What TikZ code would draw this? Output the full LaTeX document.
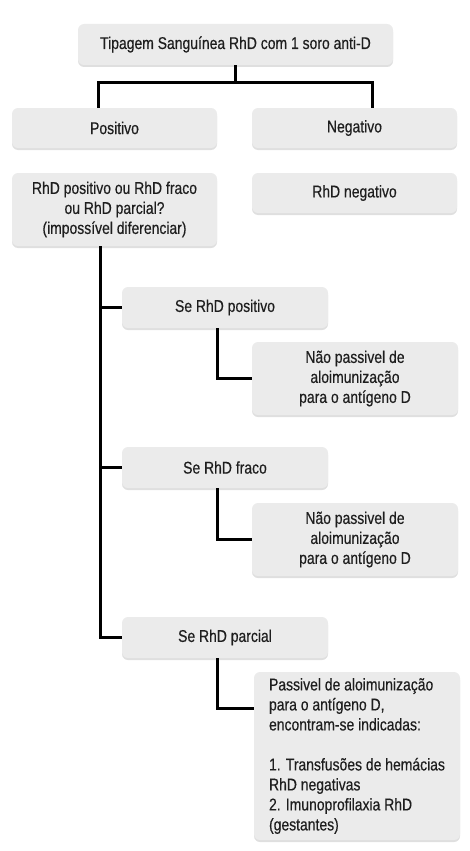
\documentclass[tikz,border=0pt]{standalone}
\usepackage{fontspec}
\setmainfont[FakeStretch=0.82, FakeBold=0.4]{Liberation Sans}
\usetikzlibrary{shadows}
\definecolor{boxgray}{HTML}{EBEBEB}
\definecolor{textgray}{HTML}{1E1E1E}

\begin{document}
\begin{tikzpicture}[x=1pt, y=-1pt,
  box/.style={rectangle, rounded corners=6pt, fill=boxgray, text=textgray,
    align=center, inner sep=0pt, minimum width=205pt, minimum height=40pt,
    font=\fontsize{17}{20}\selectfont,
    drop shadow={shadow xshift=0pt, shadow yshift=-2pt, opacity=0.25}},
  link/.style={line width=3pt, draw=black}]

\useasboundingbox (0,0) rectangle (469,851);

%------------------ TOP LEVEL ------------------%
\node[box, minimum width=315pt, minimum height=41pt] (tipagem) at (235.5,44.5)
  {Tipagem Sanguínea RhD com 1 soro anti-D};

\node[box] (pos) at (114.5,128) {Positivo};
\node[box] (neg) at (354.5,128) {Negativo};

\node[box, minimum height=73pt] (duvida) at (114.5,209.5)
  {RhD positivo ou RhD fraco\\ ou RhD parcial?\\ (impossível diferenciar)};
\node[box] (rhdneg) at (354.5,193) {RhD negativo};

% split under the top box
\coordinate (hub) at (235.5,82);
\draw[link] (tipagem.south) -- (hub);
\draw[link] ([xshift=-16.5pt]pos.north) |- (hub) -| ([xshift=17.5pt]neg.north);

%------------------ POSITIVE BRANCH ------------------%
\node[box, minimum width=206pt, minimum height=41pt] (sepos) at (225,307.5) {Se RhD positivo};
\node[box, minimum width=206pt, minimum height=73pt] (nao1) at (355,378.5)
  {Não passivel de\\ aloimunização\\ para o antígeno D};

\node[box, minimum width=206pt, minimum height=41pt] (sefraco) at (225,467.5) {Se RhD fraco};
\node[box, minimum width=206pt, minimum height=73pt] (nao2) at (355,539.5)
  {Não passivel de\\ aloimunização\\ para o antígeno D};

\node[box, minimum width=206pt, minimum height=41pt] (separcial) at (225,637.5) {Se RhD parcial};
\node[box, minimum width=206pt, minimum height=168pt, align=left] (passivel) at (357,756)
  {Passivel de aloimunização\\ para o antígeno D,\\ encontram-se indicadas:\\[20pt]
   1. Transfusões de hemácias\\ RhD negativas\\ 2. Imunoprofilaxia RhD\\ (gestantes)};

% trunk on the left
\coordinate (trunk) at ([xshift=-14.5pt]duvida.south);
\draw[link] (trunk) |- (separcial.west);
\draw[link] (sepos.west) -- (sepos.west -| trunk);
\draw[link] (sefraco.west) -- (sefraco.west -| trunk);

% second level links
\draw[link] ([xshift=-8pt]sepos.south) |- (nao1.west);
\draw[link] ([xshift=-8pt]sefraco.south) |- (nao2.west);
\coordinate (passin) at ([yshift=48pt]passivel.west);
\draw[link] ([xshift=-8pt]separcial.south) |- (passin);

\end{tikzpicture}
\end{document}
